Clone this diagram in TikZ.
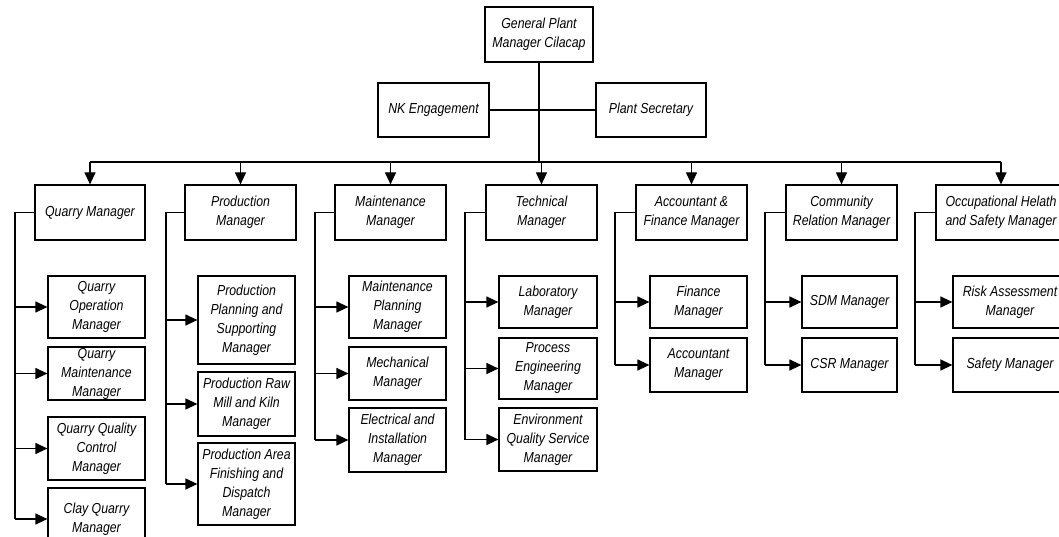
\documentclass[tikz,border=0pt]{standalone}
\usepackage{fontspec}
\setmainfont{Liberation Sans}[FakeStretch=0.85]
\usetikzlibrary{arrows.meta}
\begin{document}
\begin{tikzpicture}[x=1pt,y=-1pt,
  box/.style={draw, line width=1.2pt, align=center, inner sep=1pt,
    font=\itshape\fontsize{14.5}{19}\selectfont},
  head/.style={box, minimum height=55pt},
  link/.style={line width=1.2pt},
  feed/.style={line width=1.2pt, -{Triangle[length=12pt,width=11pt]}}]
\clip (0,0) rectangle (1059,537);
\fill[white] (0,0) rectangle (1059,537);

% top level
\node[box, minimum width=108pt, minimum height=55pt] (gpm) at (539,34.5) {General Plant\\Manager Cilacap};
\node[box, minimum width=111pt, minimum height=54pt] (nk) at (433.5,110) {NK Engagement};
\node[box, minimum width=110pt, minimum height=54pt] (ps) at (651,110) {Plant Secretary};

% department heads
\node[head, minimum width=110pt] (h1) at (90,212.5) {Quarry Manager};
\node[head, minimum width=111pt] (h2) at (240.5,212.5) {Production\\Manager};
\node[head, minimum width=111pt] (h3) at (390.5,212.5) {Maintenance\\Manager};
\node[head, minimum width=111pt] (h4) at (541.5,212.5) {Technical\\Manager};
\node[head, minimum width=111pt] (h5) at (691.5,212.5) {Accountant \&\\Finance Manager};
\node[head, minimum width=111pt] (h6) at (841.5,212.5) {Community\\Relation Manager};
\node[head, minimum width=130pt] (h7) at (1001,212.5) {Occupational Helath\\and Safety Manager};

% quarry
\node[box, minimum width=97pt, minimum height=62pt] (q1) at (96.5,307) {Quarry\\Operation\\Manager};
\node[box, minimum width=97pt, minimum height=53pt] (q2) at (96.5,373.5) {Quarry\\Maintenance\\Manager};
\node[box, minimum width=97pt, minimum height=63pt] (q3) at (96.5,448.5) {Quarry Quality\\Control\\Manager};
\node[box, minimum width=97pt, minimum height=62pt] (q4) at (96.5,519) {Clay Quarry\\Manager};

% production
\node[box, minimum width=97pt, minimum height=88pt] (p1) at (246.5,320) {Production\\Planning and\\Supporting\\Manager};
\node[box, minimum width=97pt, minimum height=64pt] (p2) at (246.5,404) {Production Raw\\Mill and Kiln\\Manager};
\node[box, minimum width=97pt, minimum height=82pt] (p3) at (246.5,484) {Production Area\\Finishing and\\Dispatch\\Manager};

% maintenance
\node[box, minimum width=97pt, minimum height=62pt] (m1) at (397.5,307) {Maintenance\\Planning\\Manager};
\node[box, minimum width=97pt, minimum height=53pt] (m2) at (397.5,373.5) {Mechanical\\Manager};
\node[box, minimum width=97pt, minimum height=64pt] (m3) at (397.5,440) {Electrical and\\Installation\\Manager};

% technical
\node[box, minimum width=98pt, minimum height=52pt] (t1) at (548,302) {Laboratory\\Manager};
\node[box, minimum width=98pt, minimum height=61pt] (t2) at (548,368.5) {Process\\Engineering\\Manager};
\node[box, minimum width=98pt, minimum height=63pt] (t3) at (548,439.5) {Environment\\Quality Service\\Manager};

% accountant & finance
\node[box, minimum width=97pt, minimum height=52pt] (a1) at (698.5,302) {Finance\\Manager};
\node[box, minimum width=97pt, minimum height=54pt] (a2) at (698.5,365) {Accountant\\Manager};

% community relation
\node[box, minimum width=95pt, minimum height=52pt] (c1) at (849.5,302) {SDM Manager};
\node[box, minimum width=95pt, minimum height=54pt] (c2) at (849.5,365) {CSR Manager};

% occupational health and safety
\node[box, minimum width=114pt, minimum height=52pt] (o1) at (1010,302) {Risk Assessment\\Manager};
\node[box, minimum width=114pt, minimum height=54pt] (o2) at (1010,365) {Safety Manager};

% top connectors
\coordinate (bus) at (541,162);
\draw[link] (gpm.south) -- (gpm.south |- bus);
\draw[link] (nk.east) -- (ps.west);
\draw[link] (h1.north |- bus) -- (h7.north |- bus);
\foreach \h in {h1,h2,h3,h4,h5,h6,h7}
  \draw[feed] (\h.north |- bus) -- (\h.north);

% group rails
\coordinate (g1) at (15,212.5);
\coordinate (g2) at (166,212.5);
\coordinate (g3) at (315,212.5);
\coordinate (g4) at (465,212.5);
\coordinate (g5) at (615,212.5);
\coordinate (g6) at (765,212.5);
\coordinate (g7) at (915,212.5);

\draw[link] (h1.west) -| (g1 |- q4.west);
\foreach \c in {q1,q2,q3,q4} \draw[feed] (g1 |- \c.west) -- (\c.west);
\draw[link] (h2.west) -| (g2 |- p3.west);
\foreach \c in {p1,p2,p3} \draw[feed] (g2 |- \c.west) -- (\c.west);
\draw[link] (h3.west) -| (g3 |- m3.west);
\foreach \c in {m1,m2,m3} \draw[feed] (g3 |- \c.west) -- (\c.west);
\draw[link] (h4.west) -| (g4 |- t3.west);
\foreach \c in {t1,t2,t3} \draw[feed] (g4 |- \c.west) -- (\c.west);
\draw[link] (h5.west) -| (g5 |- a2.west);
\foreach \c in {a1,a2} \draw[feed] (g5 |- \c.west) -- (\c.west);
\draw[link] (h6.west) -| (g6 |- c2.west);
\foreach \c in {c1,c2} \draw[feed] (g6 |- \c.west) -- (\c.west);
\draw[link] (h7.west) -| (g7 |- o2.west);
\foreach \c in {o1,o2} \draw[feed] (g7 |- \c.west) -- (\c.west);
\end{tikzpicture}
\end{document}
